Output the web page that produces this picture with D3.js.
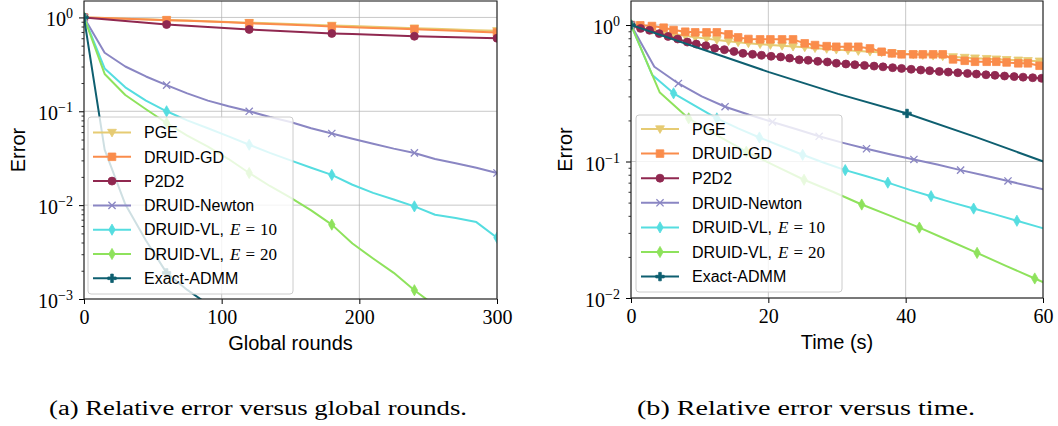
<!DOCTYPE html>
<meta charset="utf-8">
<body>
<style>
body { margin: 0; background: #fff; }
svg { display: block; }
.lbl { font-family: "Liberation Sans", Arial, sans-serif; font-size: 20px; fill: #000; }
.legend text { font-family: "Liberation Sans", Arial, sans-serif; font-size: 16px; fill: #000; }
.tk { font-family: "Liberation Serif", "DejaVu Serif", serif; font-size: 20px; fill: #000; }
.math { font-family: "Liberation Serif", "DejaVu Serif", serif; font-size: 17px; }
.caption { font-family: "Liberation Serif", "DejaVu Serif", serif; font-size: 20px; fill: #000; }
</style>
<script src="https://d3js.org/d3.v7.min.js"></script>
<script>

// ---- series info
var names   = ["PGE", "DRUID-GD", "P2D2", "DRUID-Newton", "DRUID-VL, E = 10", "DRUID-VL, E = 20", "Exact-ADMM"];
var colors  = ["#e6cb73", "#fa8c4b", "#902850", "#8a86c3", "#55dde0", "#8ee25c", "#0e5f70"];
var markers = ["tri", "square", "circle", "x", "thin", "thin", "plus"];

// ---- (a) error vs global rounds
var rounds     = [0, 15, 30, 45, 60, 75, 90, 105, 120, 135, 150, 165, 180, 195, 210, 225, 240, 255, 270, 285, 300];
var roundsPGE  = [1.0, 0.985, 0.97, 0.955, 0.94, 0.925, 0.91, 0.895, 0.88, 0.865, 0.85, 0.836, 0.822, 0.808, 0.794, 0.781, 0.768, 0.756, 0.744, 0.732, 0.72];
var roundsGD   = [1.0, 0.983, 0.967, 0.951, 0.935, 0.92, 0.905, 0.89, 0.866, 0.852, 0.838, 0.82, 0.8, 0.785, 0.772, 0.76, 0.75, 0.735, 0.72, 0.705, 0.69];
var roundsP2D2 = [1.0, 0.955, 0.915, 0.875, 0.84, 0.815, 0.79, 0.767, 0.745, 0.727, 0.71, 0.692, 0.675, 0.664, 0.652, 0.64, 0.63, 0.622, 0.614, 0.607, 0.60];
var roundsNewton = [1.0, 0.42, 0.30, 0.235, 0.19, 0.155, 0.13, 0.113, 0.1, 0.087, 0.077, 0.066, 0.058, 0.051, 0.045, 0.04, 0.036, 0.031, 0.028, 0.025, 0.022];
var roundsVL10 = [1.0, 0.286, 0.18, 0.13, 0.1, 0.08, 0.066, 0.054, 0.044, 0.036, 0.03, 0.025, 0.021, 0.0165, 0.0135, 0.0115, 0.0097, 0.0079, 0.0073, 0.0066, 0.0045];
var roundsVL20 = [1.0, 0.25, 0.149, 0.105, 0.075, 0.055, 0.042, 0.031, 0.022, 0.016, 0.012, 0.0088, 0.0062, 0.0039, 0.0027, 0.0019, 0.00124, 0.00085, 0.0006, 0.00045, 0.00034];
var roundsExact = [1.0, 0.039, 0.0102, 0.0042, 0.0019, 0.00125, 0.00088, 0.00068, 0.00055];

// ---- (b) error vs time (s)
var timeGD   = [0, 1.35, 3.05, 4.75, 6.2, 7.9, 9.35, 11.0, 12.5, 14.2, 15.6, 17.1, 18.8, 20.3, 22.0, 23.6, 25.3, 26.8, 28.5, 29.9, 31.6, 33.1, 34.8, 36.5, 38.0, 39.4, 41.1, 42.5, 44.0, 45.4, 46.9, 48.6, 50.1, 51.8, 53.2, 54.7, 56.4, 57.8, 59.5];
var errGD    = [1.0, 0.995, 0.983, 0.956, 0.919, 0.893, 0.884, 0.884, 0.884, 0.855, 0.812, 0.79, 0.785, 0.785, 0.785, 0.785, 0.734, 0.713, 0.70, 0.693, 0.693, 0.693, 0.674, 0.637, 0.62, 0.61, 0.61, 0.61, 0.61, 0.61, 0.56, 0.547, 0.538, 0.538, 0.538, 0.532, 0.524, 0.524, 0.503];
var errPGE   = [1.0, 0.955, 0.92, 0.89, 0.86, 0.835, 0.812, 0.795, 0.778, 0.762, 0.748, 0.735, 0.724, 0.714, 0.704, 0.695, 0.686, 0.677, 0.668, 0.66, 0.652, 0.645, 0.638, 0.63, 0.623, 0.616, 0.609, 0.602, 0.596, 0.59, 0.584, 0.578, 0.572, 0.567, 0.562, 0.557, 0.552, 0.547, 0.543];
var timeP2D2 = [0, 1.4, 2.7, 4.1, 5.4, 6.8, 8.2, 9.5, 10.9, 12.2, 13.6, 15.0, 16.3, 17.7, 19.0, 20.4, 21.8, 23.1, 24.5, 25.8, 27.2, 28.6, 29.9, 31.3, 32.6, 34.0, 35.4, 36.7, 38.1, 39.4, 40.8, 42.2, 43.5, 44.9, 46.2, 47.6, 49.0, 50.3, 51.7, 53.0, 54.4, 55.8, 57.1, 58.5, 59.8];
var errP2D2  = [1.0, 0.945, 0.915, 0.865, 0.825, 0.79, 0.75, 0.725, 0.705, 0.675, 0.66, 0.64, 0.62, 0.61, 0.60, 0.59, 0.584, 0.572, 0.556, 0.552, 0.542, 0.536, 0.525, 0.518, 0.512, 0.506, 0.50, 0.494, 0.487, 0.481, 0.474, 0.468, 0.463, 0.457, 0.452, 0.447, 0.442, 0.437, 0.432, 0.428, 0.423, 0.419, 0.415, 0.411, 0.407];
var timeNewton = [0, 3.4, 6.9, 10.3, 13.7, 17.2, 20.6, 24.0, 27.4, 30.9, 34.3, 37.7, 41.2, 44.6, 48.0, 51.5, 54.9, 58.3, 61.7];
var errNewton  = [1.0, 0.495, 0.373, 0.30, 0.252, 0.22, 0.195, 0.173, 0.153, 0.137, 0.124, 0.113, 0.1035, 0.095, 0.0865, 0.079, 0.072, 0.0655, 0.060];
var timeVL10 = [0, 3.1, 6.2, 9.4, 12.5, 15.6, 18.7, 21.8, 25.0, 28.1, 31.2, 34.3, 37.4, 40.6, 43.7, 46.8, 49.9, 53.0, 56.2, 59.3, 62.4];
var errVL10  = [1.0, 0.43, 0.316, 0.255, 0.207, 0.175, 0.15, 0.13, 0.112, 0.098, 0.0865, 0.078, 0.070, 0.062, 0.0557, 0.050, 0.0452, 0.041, 0.0368, 0.0332, 0.0300];
var timeVL20 = [0, 4.2, 8.4, 12.6, 16.8, 21.0, 25.2, 29.4, 33.6, 37.8, 42.0, 46.2, 50.4, 54.6, 58.8, 63.0];
var errVL20  = [1.0, 0.32, 0.207, 0.155, 0.118, 0.093, 0.0735, 0.060, 0.0484, 0.040, 0.0328, 0.0265, 0.0214, 0.0172, 0.0139, 0.0112];
var timeExact = [0, 10.05, 20.1, 30.15, 40.2, 50.25, 60.3];
var errExact  = [1.0, 0.673, 0.452, 0.313, 0.225, 0.151, 0.099];

function zip(xs, ys) { return ys.map(function(v, i) { return [xs[i], v]; }); }

var seriesA = [
  { pts: zip(rounds, roundsPGE), every: 4 },
  { pts: zip(rounds, roundsGD), every: 4 },
  { pts: zip(rounds, roundsP2D2), every: 4 },
  { pts: zip(rounds, roundsNewton), every: 4 },
  { pts: zip(rounds, roundsVL10), every: 4 },
  { pts: zip(rounds, roundsVL20), every: 4 },
  { pts: zip(rounds, roundsExact), every: 4 }
];
var seriesB = [
  { pts: zip(timeGD, errPGE), every: 1 },
  { pts: zip(timeGD, errGD), every: 1 },
  { pts: zip(timeP2D2, errP2D2), every: 1 },
  { pts: zip(timeNewton, errNewton), every: 2 },
  { pts: zip(timeVL10, errVL10), every: 2 },
  { pts: zip(timeVL20, errVL20), every: 2 },
  { pts: zip(timeExact, errExact), every: 4 }
];

var svg = d3.select("body").append("svg").attr("width", 1058).attr("height", 426);

function markerPath(type) {
  if (type == "square") return "M-3.8,-3.8H3.8V3.8H-3.8Z";
  if (type == "circle") return d3.symbol(d3.symbolCircle, 50)();
  if (type == "tri") return "M-4.4,-3.2L4.4,-3.2L0,4.4Z";
  if (type == "x") return "M-3.6,-3.6L3.6,3.6M-3.6,3.6L3.6,-3.6";
  if (type == "thin") return "M0,-5.6L3.2,0L0,5.6L-3.2,0Z";
  return "M-1.3,-4.2H1.3V-1.3H4.2V1.3H1.3V4.2H-1.3V1.3H-4.2V-1.3H-1.3Z";
}

function drawMarker(sel, i) {
  sel.attr("d", markerPath(markers[i]))
    .attr("fill", markers[i] == "x" ? "none" : colors[i])
    .attr("stroke", colors[i])
    .attr("stroke-width", markers[i] == "x" ? 1.3 : 0.8);
}

function panel(o) {
  var x = d3.scaleLinear().domain(o.xDomain).range([o.left, o.right]);
  var y = d3.scaleLog().domain(o.yDomain).range([o.bottom, o.top]);
  var g = svg.append("g");

  svg.append("clipPath").attr("id", "clip" + o.id).append("rect")
    .attr("x", o.left).attr("y", o.top)
    .attr("width", o.right - o.left).attr("height", o.bottom - o.top);

  var lo = Math.round(Math.log10(o.yDomain[0])), major = [], minor = [];
  for (var e = lo; e <= 0; e++) {
    major.push(Math.pow(10, e));
    for (var k = 2; k < 10; k++) if (e < 0) minor.push(k * Math.pow(10, e));
  }

  // grid
  g.append("g").selectAll("line").data(o.xTicks).enter().append("line")
    .attr("x1", function(d) { return x(d); }).attr("x2", function(d) { return x(d); })
    .attr("y1", o.top).attr("y2", o.bottom)
    .attr("stroke", "#b0b0b0").attr("stroke-opacity", 0.7).attr("stroke-width", 1);
  g.append("g").selectAll("line").data(major).enter().append("line")
    .attr("x1", o.left).attr("x2", o.right)
    .attr("y1", function(d) { return y(d); }).attr("y2", function(d) { return y(d); })
    .attr("stroke", "#b0b0b0").attr("stroke-opacity", 0.7).attr("stroke-width", 1);

  // x axis
  var xa = g.append("g").attr("transform", "translate(0," + o.bottom + ")")
    .call(d3.axisBottom(x).tickValues(o.xTicks).tickSize(5).tickPadding(5));
  xa.select(".domain").remove();
  xa.selectAll(".tick line").attr("stroke", "#000");
  xa.selectAll(".tick text").attr("class", "tk").attr("dy", null).attr("y", 25);

  // y axis, major and minor ticks
  var ya = g.append("g").attr("transform", "translate(" + o.left + ",0)")
    .call(d3.axisLeft(y).tickValues(major).tickSize(5).tickFormat(""));
  ya.select(".domain").remove();
  ya.selectAll(".tick line").attr("stroke", "#000");
  ya.selectAll(".tick").each(function(d) {
    var ex = Math.round(Math.log10(d));
    var t = d3.select(this).append("text").attr("class", "tk")
      .attr("x", -11).attr("y", 8.5).attr("text-anchor", "end");
    t.append("tspan").text("10");
    t.append("tspan").attr("dy", -8).style("font-size", "14px").text(ex < 0 ? "\u2212" + (-ex) : ex);
  });
  var ym = g.append("g").attr("transform", "translate(" + o.left + ",0)")
    .call(d3.axisLeft(y).tickValues(minor).tickSize(2.5).tickFormat(""));
  ym.select(".domain").remove();
  ym.selectAll(".tick line").attr("stroke", "#000").attr("stroke-width", 0.8);

  // lines and markers
  var line = d3.line().x(function(d) { return x(d[0]); }).y(function(d) { return y(d[1]); });
  var plot = g.append("g").attr("clip-path", "url(#clip" + o.id + ")");
  o.series.forEach(function(s, i) {
    plot.append("path").attr("d", line(s.pts))
      .attr("fill", "none").attr("stroke", colors[i]).attr("stroke-width", 2)
      .attr("stroke-linejoin", "round");
    plot.append("g").selectAll("path")
      .data(s.pts.filter(function(p, j) { return j % s.every == 0; }))
      .enter().append("path")
      .attr("transform", function(d) { return "translate(" + x(d[0]) + "," + y(d[1]) + ")"; })
      .call(drawMarker, i);
  });

  // frame
  g.append("rect").attr("x", o.left).attr("y", o.top)
    .attr("width", o.right - o.left).attr("height", o.bottom - o.top)
    .attr("fill", "none").attr("stroke", "#222").attr("stroke-width", 1.1);

  // axis labels
  g.append("text").attr("class", "lbl").attr("text-anchor", "middle")
    .attr("x", (o.left + o.right) / 2).attr("y", o.bottom + 51).text(o.xLabel);
  g.append("text").attr("class", "lbl").attr("text-anchor", "middle")
    .attr("transform", "translate(" + (o.left - 59) + "," + (o.top + o.bottom) / 2 + ") rotate(-90)")
    .text("Error");

  // legend
  var L = o.legend;
  var lg = g.append("g").attr("class", "legend");
  lg.append("rect").attr("x", L.x).attr("y", L.y).attr("width", L.w).attr("height", L.h)
    .attr("rx", 3).attr("fill", "#fff").attr("fill-opacity", 0.8)
    .attr("stroke", "#cccccc").attr("stroke-width", 1);
  names.forEach(function(n, i) {
    var cy = L.row0 + i * L.step;
    lg.append("line").attr("x1", L.x + 5).attr("x2", L.x + 43).attr("y1", cy).attr("y2", cy)
      .attr("stroke", colors[i]).attr("stroke-width", 2);
    lg.append("path").attr("transform", "translate(" + (L.x + 24) + "," + cy + ")").call(drawMarker, i);
    var t = lg.append("text").attr("x", L.x + 56).attr("y", cy + 5.7);
    var m = n.match(/^(.*), E = (\d+)$/);
    if (m) {
      t.append("tspan").text(m[1] + ",");
      t.append("tspan").attr("class", "math").attr("dx", 6).style("font-style", "italic").text("E");
      t.append("tspan").attr("class", "math").attr("dx", 5).text("=");
      t.append("tspan").attr("class", "math").attr("dx", 5).text(m[2]);
    } else {
      t.text(n);
    }
  });

  // caption
  svg.append("text").attr("class", "caption")
    .attr("x", o.capX).attr("y", 415)
    .attr("textLength", o.capLen).attr("lengthAdjust", "spacingAndGlyphs")
    .text(o.caption);
}

panel({
  id: "a", left: 84, right: 497, top: 1, bottom: 299,
  xDomain: [0, 300], yDomain: [1e-3, Math.pow(10, 0.175)], xTicks: [0, 100, 200, 300],
  xLabel: "Global rounds", series: seriesA,
  legend: { x: 88, y: 117, w: 205, h: 177, row0: 132.5, step: 24.3 },
  caption: "(a) Relative error versus global rounds.", capX: 49, capLen: 418
});

panel({
  id: "b", left: 631, right: 1043, top: 1, bottom: 298,
  xDomain: [0, 60], yDomain: [1e-2, Math.pow(10, 0.176)], xTicks: [0, 20, 40, 60],
  xLabel: "Time (s)", series: seriesB,
  legend: { x: 636, y: 115, w: 206, h: 177, row0: 129, step: 24.6 },
  caption: "(b) Relative error versus time.", capX: 637, capLen: 338
});

</script>
</body>
